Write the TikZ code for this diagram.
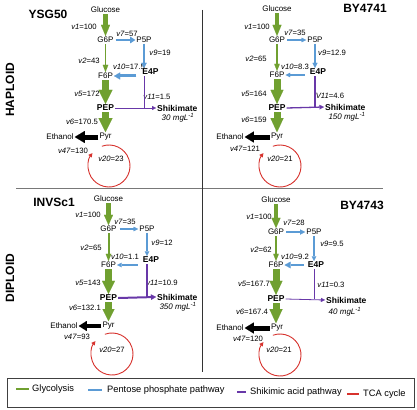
\documentclass[tikz,border=0pt]{standalone}
\usepackage{fontspec}
\setmainfont{Liberation Sans}
\usetikzlibrary{arrows.meta}
\definecolor{glyc}{RGB}{112,160,48}
\definecolor{pppc}{RGB}{91,155,213}
\definecolor{shkc}{RGB}{104,56,168}
\definecolor{tcac}{RGB}{215,50,45}
\definecolor{divc}{RGB}{120,120,120}
\begin{document}
\begin{tikzpicture}[x=1pt,y=-1pt,
  met/.style={font=\fontsize{8}{9.6}\selectfont, inner sep=1pt},
  metb/.style={font=\fontsize{8.5}{10}\selectfont\bfseries, inner sep=1pt},
  flx/.style={font=\fontsize{7.7}{9}\selectfont, inner sep=0pt},
  conc/.style={font=\fontsize{8}{9.6}\selectfont\itshape, inner sep=0pt},
  ttl/.style={font=\fontsize{12}{14}\selectfont\bfseries, inner sep=0pt},
  legtxt/.style={font=\fontsize{9.3}{11}\selectfont, inner sep=0pt, anchor=west},
  fat/.style n args={3}{line width=#1, -{Triangle[width=#2,length=#3,line width=0.01pt]}},
  gl/.style={draw=glyc},
  pp/.style={draw=pppc},
  sk/.style={draw=shkc},
  eth/.style={draw=black},
  tca/.style={draw=tcac, line width=0.9pt, -{Triangle[width=4pt,length=4pt]}},
  legline/.style={line width=2pt},
]
\useasboundingbox (0,0) rectangle (417,409);
\fill[white] (0,0) rectangle (417,409);

% dividers
\draw[divc, line width=0.9pt] (16,188) -- (383,188);
\draw[black!80, line width=0.8pt] (202,10) -- (202,372);

% ================= Q1 YSG50 =================
\node[ttl] (at) at (48,14) {YSG50};
\node[ttl, rotate=90] (hap) at (10,90) {HAPLOID};
\node[met] (aglc) at (105.5,10) {Glucose};
\node[met] (ag6p) at (105.5,40) {G6P};
\node[met] (ap5p) at (144,40) {P5P};
\node[metb] (ae4p) at (150.5,72) {E4P};
\node[met] (af6p) at (105.5,76) {F6P};
\node[metb] (apep) at (105.5,108) {PEP};
\node[met] (apyr) at (105.5,137) {Pyr};
\node[met] (aeth) at (60,137) {Ethanol};
\node[metb, anchor=west] (ashk) at (156,108) {Shikimate};
\node[conc] (acon) at (178,118) {30 mgL\textsuperscript{-1}};
\node[flx] (af1) at (84,27) {\textit{v1}=100};
\node[flx] (af7) at (127,34) {\textit{v7}=57};
\node[flx] (af9) at (160,53) {\textit{v9}=19};
\node[flx] (af10) at (129,67) {\textit{v10}=17.5};
\node[flx] (af2) at (89,61) {\textit{v2}=43};
\node[flx] (af5) at (87,94) {\textit{v5}=172};
\node[flx] (af11) at (157,97) {\textit{v11}=1.5};
\node[flx] (af6) at (82,122) {\textit{v6}=170.5};
\node[flx] (af47) at (73,151) {\textit{v47}=130};
\node[flx] (af20) at (111,159) {\textit{v20}=23};
\draw[gl, fat={4.5pt}{9pt}{11pt}] (aglc.south) -- (ag6p.north);
\draw[gl, fat={1.8pt}{5.5pt}{7pt}] (ag6p.south) -- (af6p.north);
\draw[gl, fat={7.5pt}{14pt}{14pt}] (af6p.south) -- (apep.north);
\draw[gl, fat={7.5pt}{14pt}{14pt}] (apep.south) -- (apyr.north);
\draw[pp, fat={2.5pt}{6.5pt}{5pt}, shorten <=1pt] (ag6p.east) -- (ap5p.west);
\draw[pp, fat={1.8pt}{5.5pt}{5pt}] (ap5p.south) -- (ap5p.south |- ae4p.north);
\draw[pp, fat={3pt}{7pt}{6pt}, shorten <=5pt] (ae4p.west |- af6p) -- (af6p.east);
\draw[sk, line width=0.8pt] (ap5p |- ae4p.south) -- (ap5p |- apep);
\draw[sk, fat={0.8pt}{4pt}{4pt}] (apep.east) -- (ashk.west);
\draw[eth, fat={5pt}{12pt}{10pt}] (apyr.west) -- (aeth.east);
\coordinate (acyc) at (109,166);
\draw[tca] (acyc) ++(-110:21) arc[start angle=-110, end angle=218, radius=21];

% ================= Q2 BY4741 =================
\node[ttl] (bt) at (365,8) {BY4741};
\node[met] (bglc) at (277,9) {Glucose};
\node[met] (bg6p) at (277,40) {G6P};
\node[met] (bp5p) at (315,40) {P5P};
\node[metb] (be4p) at (318,72) {E4P};
\node[met] (bf6p) at (277,75) {F6P};
\node[metb] (bpep) at (277,108) {PEP};
\node[met] (bpyr) at (277,137) {Pyr};
\node[met] (beth) at (230,137) {Ethanol};
\node[metb, anchor=west] (bshk) at (324,107) {Shikimate};
\node[conc] (bcon) at (347,117) {150 mgL\textsuperscript{-1}};
\node[flx] (bf1) at (257,27) {\textit{v1}=100};
\node[flx] (bf7) at (295,33) {\textit{v7}=35};
\node[flx] (bf9) at (332,53) {\textit{v9}=12.9};
\node[flx] (bf10) at (295,67) {\textit{v10}=8.3};
\node[flx] (bf2) at (256,59) {\textit{v2}=65};
\node[flx] (bf5) at (254,94) {\textit{v5}=164};
\node[flx] (bf11) at (330,96) {\textit{V11}=4.6};
\node[flx] (bf6) at (254,120) {\textit{v6}=159};
\node[flx] (bf47) at (245,149) {\textit{v47}=121};
\node[flx] (bf20) at (280,159) {\textit{v20}=21};
\draw[gl, fat={4.5pt}{9pt}{11pt}] (bglc.south) -- (bg6p.north);
\draw[gl, fat={2pt}{5.5pt}{7pt}] (bg6p.south) -- (bf6p.north);
\draw[gl, fat={7pt}{13pt}{14pt}] (bf6p.south) -- (bpep.north);
\draw[gl, fat={7pt}{13pt}{14pt}] (bpep.south) -- (bpyr.north);
\draw[pp, fat={1.2pt}{4.5pt}{4.5pt}, shorten <=1pt] (bg6p.east) -- (bp5p.west);
\draw[pp, fat={1.5pt}{5pt}{5pt}] (bp5p.south) -- (bp5p.south |- be4p.north);
\draw[pp, fat={1.2pt}{4.5pt}{4.5pt}, shorten <=4pt] (be4p.west |- bf6p) -- (bf6p.east);
\draw[sk, line width=1.3pt] (bp5p |- be4p.south) -- (bp5p |- bpep);
\draw[sk, fat={1.3pt}{4.5pt}{4.5pt}] (bpep.east) -- (bshk.west);
\draw[eth, fat={5pt}{11pt}{9pt}] (bpyr.west) -- (beth.east);
\coordinate (bcyc) at (280,166);
\draw[tca] (bcyc) ++(-110:21) arc[start angle=-110, end angle=218, radius=21];

% ================= Q3 INVSc1 =================
\node[ttl] (ct) at (54,202) {INVSc1};
\node[ttl, rotate=90] (dip) at (10,278) {DIPLOID};
\node[met] (cglc) at (108.5,199) {Glucose};
\node[met] (cg6p) at (108.5,229) {G6P};
\node[met] (cp5p) at (147,229) {P5P};
\node[metb] (ce4p) at (151,260) {E4P};
\node[met] (cf6p) at (108.5,265) {F6P};
\node[metb] (cpep) at (108.5,298) {PEP};
\node[met] (cpyr) at (108.5,326) {Pyr};
\node[met] (ceth) at (64,326) {Ethanol};
\node[metb, anchor=west] (cshk) at (156,297) {Shikimate};
\node[conc] (ccon) at (178,307) {350 mgL\textsuperscript{-1}};
\node[flx] (cf1) at (88,215) {\textit{v1}=100};
\node[flx] (cf7) at (125,222) {\textit{v7}=35};
\node[flx] (cf9) at (162,243) {\textit{v9}=12};
\node[flx] (cf10) at (125,257) {\textit{v10}=1.1};
\node[flx] (cf2) at (91,248) {\textit{v2}=65};
\node[flx] (cf5) at (88,283) {\textit{v5}=143};
\node[flx] (cf11) at (162,283) {\textit{v11}=10.9};
\node[flx] (cf6) at (85,308) {\textit{v6}=132.1};
\node[flx] (cf47) at (77,337) {\textit{v47}=93};
\node[flx] (cf20) at (112,350) {\textit{v20}=27};
\draw[gl, fat={4.5pt}{9pt}{10pt}] (cglc.south) -- (cg6p.north);
\draw[gl, fat={2pt}{5.5pt}{7pt}] (cg6p.south) -- (cf6p.north);
\draw[gl, fat={6.5pt}{13pt}{13pt}] (cf6p.south) -- (cpep.north);
\draw[gl, fat={6.5pt}{12pt}{12pt}] (cpep.south) -- (cpyr.north);
\draw[pp, fat={1.2pt}{4.5pt}{4.5pt}, shorten <=2pt] (cg6p.east) -- (cp5p.west);
\draw[pp, fat={1.2pt}{4.5pt}{4.5pt}] (cp5p.south) -- (cp5p.south |- ce4p.north);
\draw[pp, fat={1.2pt}{4.5pt}{4.5pt}, shorten <=4pt] (ce4p.west |- cf6p) -- (cf6p.east);
\draw[sk, line width=2pt] (cp5p |- ce4p.south) -- (cp5p |- cpep);
\draw[sk, fat={2pt}{5.5pt}{5pt}] (cpep.east) -- (cshk.west);
\draw[eth, fat={4pt}{10pt}{8pt}] (cpyr.west) -- (ceth.east);
\coordinate (ccyc) at (112,354);
\draw[tca] (ccyc) ++(-110:21) arc[start angle=-110, end angle=218, radius=21];

% ================= Q4 BY4743 =================
\node[ttl] (dt) at (362,205) {BY4743};
\node[met] (dglc) at (276,200) {Glucose};
\node[met] (dg6p) at (276,232) {G6P};
\node[met] (dp5p) at (314,232) {P5P};
\node[metb] (de4p) at (316,265) {E4P};
\node[met] (df6p) at (276,265) {F6P};
\node[metb] (dpep) at (276,299) {PEP};
\node[met] (dpyr) at (277,328) {Pyr};
\node[met] (deth) at (230,328) {Ethanol};
\node[metb, anchor=west] (dshk) at (325,300) {Shikimate};
\node[conc] (dcon) at (345,312) {40 mgL\textsuperscript{-1}};
\node[flx] (df1) at (259,217) {\textit{v1}=100};
\node[flx] (df7) at (294,223) {\textit{v7}=28};
\node[flx] (df9) at (332,244) {\textit{v9}=9.5};
\node[flx] (df10) at (295,257) {\textit{v10}=9.2};
\node[flx] (df2) at (261,250) {\textit{v2}=62};
\node[flx] (df5) at (254,284) {\textit{v5}=167.7};
\node[flx] (df11) at (331,285) {\textit{v11}=0.3};
\node[flx] (df6) at (252,312) {\textit{v6}=167.4};
\node[flx] (df47) at (248,339) {\textit{v47}=120};
\node[flx] (df20) at (279,350) {\textit{v20}=21};
\draw[gl, fat={4.5pt}{9pt}{10pt}] (dglc.south) -- (dg6p.north);
\draw[gl, fat={2pt}{5.5pt}{7pt}] (dg6p.south) -- (df6p.north);
\draw[gl, fat={7pt}{13pt}{14pt}] (df6p.south) -- (dpep.north);
\draw[gl, fat={7pt}{13pt}{14pt}] (dpep.south) -- (dpep.south |- dpyr.north);
\draw[pp, fat={1.5pt}{5pt}{5pt}, shorten <=1pt] (dg6p.east) -- (dp5p.west);
\draw[pp, fat={1.2pt}{4.5pt}{4.5pt}] (dp5p.south) -- (dp5p.south |- de4p.north);
\draw[pp, fat={2.5pt}{6.5pt}{6pt}, shorten <=3pt] (de4p.west |- df6p) -- (df6p.east);
\draw[sk, line width=0.8pt] (dp5p |- de4p.south) -- (dp5p |- dpep);
\draw[sk, fat={0.8pt}{4pt}{4pt}] (dpep.east) -- (dshk.west);
\draw[eth, fat={5pt}{11pt}{9pt}] (dpyr.west) -- (deth.east);
\coordinate (dcyc) at (280,355);
\draw[tca] (dcyc) ++(-110:21) arc[start angle=-110, end angle=218, radius=21];

% ================= Legend =================
\draw[black!75, line width=0.9pt] (7,378) rectangle (414,407);
\draw[glyc, legline] (16,389) -- (29,389);
\node[legtxt] (lg1) at (32,389) {Glycolysis};
\draw[pppc, legline] (88,390) -- (102,390);
\node[legtxt] (lg2) at (107,390.5) {Pentose phosphate pathway};
\draw[shkc, legline] (237,392) -- (246,392);
\node[legtxt] (lg3) at (250,392) {Shikimic acid pathway};
\draw[tcac, legline] (347,394) -- (359,394);
\node[legtxt] (lg4) at (363,394) {TCA cycle};
\end{tikzpicture}
\end{document}
